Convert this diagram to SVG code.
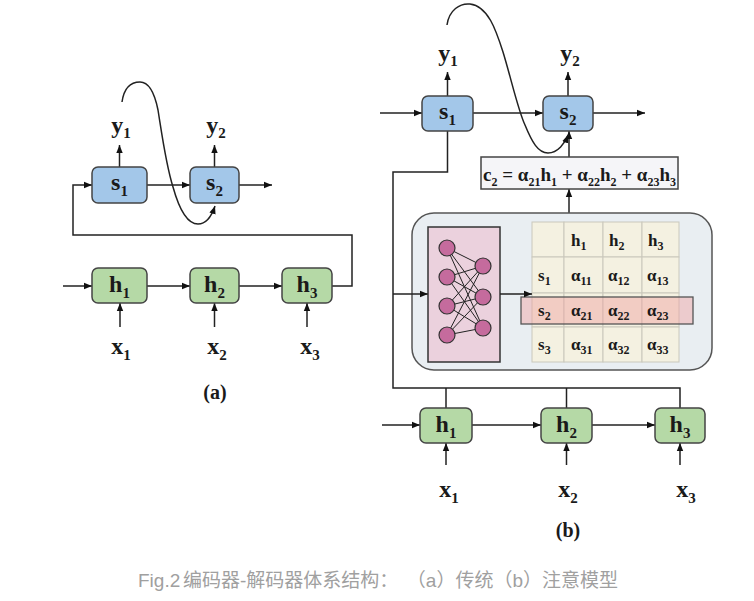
<svg xmlns="http://www.w3.org/2000/svg" width="754" height="601" viewBox="0 0 754 601">
<defs>
<marker id="ah" viewBox="0 0 10 10" refX="10" refY="5" markerWidth="8" markerHeight="8" markerUnits="userSpaceOnUse" orient="auto">
<path d="M0,1 L10,5 L0,9 Z" fill="#111"/>
</marker>
<style>
.ln{fill:none;stroke:#222;stroke-width:1.5}
.ar{fill:none;stroke:#222;stroke-width:1.5;marker-end:url(#ah)}
.sbox{fill:#a3c7e9;stroke:#444;stroke-width:1.5}
.hbox{fill:#b5d9a6;stroke:#444;stroke-width:1.5}
.lb{font-family:"Liberation Serif","Times New Roman",serif;font-weight:bold;fill:#1a1a1a}
.big{font-size:24px}
.tb{font-size:17px}
.cell{fill:#f4f1e1;stroke:#cac8bc;stroke-width:1}
.nn{fill:#c56b9d;stroke:#333;stroke-width:1.2}
.w{stroke:#222;stroke-width:1}
.cap{font-family:"Liberation Sans","Noto Sans CJK SC",sans-serif;font-size:19px;fill:#a0a0a0}
</style>
</defs>
<rect width="754" height="601" fill="#fff"/>

<!-- connectors -->
<g id="connectors">
<!-- (a) -->
<path class="ar" d="M63,286 H92"/>
<path class="ar" d="M147,286 H190"/>
<path class="ar" d="M239,286 H282"/>
<path class="ar" d="M120,327 V303"/>
<path class="ar" d="M214.5,327 V303"/>
<path class="ar" d="M307,327 V303"/>
<path class="ar" d="M119.5,167 V145"/>
<path class="ar" d="M214.5,167 V145"/>
<path class="ar" d="M147,185 H190"/>
<path class="ar" d="M239,185 H272"/>
<path class="ar" d="M332,286 H352 V235 H73 V185 H92"/>
<path class="ar" d="M122,102 C124,88 131,82 140,82 C150,82 155,95 158,110 C162,135 166,165 173,187 C178,205 186,224 198,224 C207,224 212,215 215,206"/>
<!-- (b) -->
<path class="ar" d="M380,113 H422"/>
<path class="ar" d="M473,113 H543"/>
<path class="ar" d="M593,113 H645"/>
<path class="ar" d="M447.5,96 V72"/>
<path class="ar" d="M568,96 V72"/>
<path class="ln" d="M447.5,131 V172 H393 V388 H680 V408"/>
<path class="ln" d="M446,388 V408"/>
<path class="ln" d="M566.5,388 V408"/>
<path class="ar" d="M569,213 V189"/>
<path class="ar" d="M569,157 V131"/>
<path class="ar" d="M382,425 H420"/>
<path class="ar" d="M472,425 H541"/>
<path class="ar" d="M592,425 H655"/>
<path class="ar" d="M446,465 V443"/>
<path class="ar" d="M566.5,465 V443"/>
<path class="ar" d="M680,465 V443"/>
<path class="ar" d="M447,25 C449,10 460,3 470,4 C488,6 496,30 503,52 C511,78 518,110 525,125 C532,142 538,153 548,153 C558,153 565,143 568,135"/>
</g>

<!-- (a) nodes -->
<g id="a-s1"><rect class="sbox" x="92" y="167" width="55" height="36" rx="6"/><text class="lb big" x="119.5" y="190" text-anchor="middle">s<tspan font-size="15" dy="6">1</tspan></text></g>
<g id="a-s2"><rect class="sbox" x="190" y="167" width="49" height="36" rx="6"/><text class="lb big" x="214.5" y="190" text-anchor="middle">s<tspan font-size="15" dy="6">2</tspan></text></g>
<g id="a-h1"><rect class="hbox" x="92" y="268" width="55" height="35" rx="6"/><text class="lb big" x="119.5" y="292" text-anchor="middle">h<tspan font-size="15" dy="6">1</tspan></text></g>
<g id="a-h2"><rect class="hbox" x="190" y="268" width="49" height="35" rx="6"/><text class="lb big" x="214.5" y="292" text-anchor="middle">h<tspan font-size="15" dy="6">2</tspan></text></g>
<g id="a-h3"><rect class="hbox" x="282" y="268" width="50" height="35" rx="6"/><text class="lb big" x="307" y="292" text-anchor="middle">h<tspan font-size="15" dy="6">3</tspan></text></g>
<g id="a-y1"><text class="lb big" x="121" y="133" text-anchor="middle">y<tspan font-size="15" dy="5">1</tspan></text></g>
<g id="a-y2"><text class="lb big" x="216" y="133" text-anchor="middle">y<tspan font-size="15" dy="5">2</tspan></text></g>
<g id="a-x1"><text class="lb big" x="121" y="354" text-anchor="middle">x<tspan font-size="15" dy="6">1</tspan></text></g>
<g id="a-x2"><text class="lb big" x="217" y="354" text-anchor="middle">x<tspan font-size="15" dy="6">2</tspan></text></g>
<g id="a-x3"><text class="lb big" x="310" y="354" text-anchor="middle">x<tspan font-size="15" dy="6">3</tspan></text></g>
<g id="a-label"><text class="lb" font-size="20" x="215" y="399" text-anchor="middle">(a)</text></g>

<!-- (b) nodes -->
<g id="b-s1"><rect class="sbox" x="422" y="96" width="51" height="35" rx="6"/><text class="lb big" x="447.5" y="119" text-anchor="middle">s<tspan font-size="15" dy="6">1</tspan></text></g>
<g id="b-s2"><rect class="sbox" x="543" y="96" width="50" height="35" rx="6"/><text class="lb big" x="568" y="119" text-anchor="middle">s<tspan font-size="15" dy="6">2</tspan></text></g>
<g id="b-y1"><text class="lb big" x="448" y="61" text-anchor="middle">y<tspan font-size="15" dy="5">1</tspan></text></g>
<g id="b-y2"><text class="lb big" x="570" y="61" text-anchor="middle">y<tspan font-size="15" dy="5">2</tspan></text></g>
<g id="b-c2"><rect x="481" y="157" width="197" height="32" fill="#f5f5f8" stroke="#444" stroke-width="1.5"/><text class="lb" font-size="19" x="483" y="181">c<tspan font-size="12" dy="5">2</tspan><tspan dy="-5"> = α</tspan><tspan font-size="12" dy="5">21</tspan><tspan dy="-5">h</tspan><tspan font-size="12" dy="5">1</tspan><tspan dy="-5"> + α</tspan><tspan font-size="12" dy="5">22</tspan><tspan dy="-5">h</tspan><tspan font-size="12" dy="5">2</tspan><tspan dy="-5"> + α</tspan><tspan font-size="12" dy="5">23</tspan><tspan dy="-5">h</tspan><tspan font-size="12" dy="5">3</tspan></text></g>

<g id="b-attention">
<rect x="412" y="213" width="300" height="157" rx="22" fill="#e9eef2" stroke="#555" stroke-width="1.5"/>
<path class="ar" d="M393,294 H428"/>
<rect x="428" y="227" width="72" height="135" fill="#ebd1dd" stroke="#333" stroke-width="1.5"/>
<g class="w">
<path d="M447,248 L483,266 M447,248 L483,297 M447,248 L483,328 M447,277 L483,266 M447,277 L483,297 M447,277 L483,328 M447,306 L483,266 M447,306 L483,297 M447,306 L483,328 M447,335 L483,266 M447,335 L483,297 M447,335 L483,328"/>
</g>
<circle class="nn" cx="447" cy="248" r="8"/><circle class="nn" cx="447" cy="277" r="8"/><circle class="nn" cx="447" cy="306" r="8"/><circle class="nn" cx="447" cy="335" r="8"/>
<circle class="nn" cx="483" cy="266" r="8"/><circle class="nn" cx="483" cy="297" r="8"/><circle class="nn" cx="483" cy="328" r="8"/>
</g>

<g id="b-table">
<rect class="cell" x="532" y="222" width="32" height="35"/><rect class="cell" x="564" y="222" width="39" height="35"/><rect class="cell" x="603" y="222" width="39" height="35"/><rect class="cell" x="642" y="222" width="37" height="35"/>
<rect class="cell" x="532" y="257" width="32" height="36"/><rect class="cell" x="564" y="257" width="39" height="36"/><rect class="cell" x="603" y="257" width="39" height="36"/><rect class="cell" x="642" y="257" width="37" height="36"/>
<rect class="cell" x="532" y="293" width="32" height="34"/><rect class="cell" x="564" y="293" width="39" height="34"/><rect class="cell" x="603" y="293" width="39" height="34"/><rect class="cell" x="642" y="293" width="37" height="34"/>
<rect class="cell" x="532" y="327" width="32" height="35"/><rect class="cell" x="564" y="327" width="39" height="35"/><rect class="cell" x="603" y="327" width="39" height="35"/><rect class="cell" x="642" y="327" width="37" height="35"/>
<rect x="521" y="297" width="172" height="27" fill="#f0a0a0" fill-opacity="0.45" stroke="#555" stroke-width="1.3"/>
<path class="ar" d="M500,294 H532"/>
<g class="lb tb">
<text x="571" y="246">h<tspan font-size="12" dy="4">1</tspan></text>
<text x="609" y="246">h<tspan font-size="12" dy="4">2</tspan></text>
<text x="648" y="246">h<tspan font-size="12" dy="4">3</tspan></text>
<text x="538" y="281">s<tspan font-size="12" dy="4">1</tspan></text>
<text x="571" y="281">α<tspan font-size="12" dy="4">11</tspan></text>
<text x="608" y="281">α<tspan font-size="12" dy="4">12</tspan></text>
<text x="647" y="281">α<tspan font-size="12" dy="4">13</tspan></text>
<text x="538" y="316">s<tspan font-size="12" dy="4">2</tspan></text>
<text x="571" y="316">α<tspan font-size="12" dy="4">21</tspan></text>
<text x="608" y="316">α<tspan font-size="12" dy="4">22</tspan></text>
<text x="647" y="316">α<tspan font-size="12" dy="4">23</tspan></text>
<text x="538" y="350">s<tspan font-size="12" dy="4">3</tspan></text>
<text x="571" y="350">α<tspan font-size="12" dy="4">31</tspan></text>
<text x="608" y="350">α<tspan font-size="12" dy="4">32</tspan></text>
<text x="647" y="350">α<tspan font-size="12" dy="4">33</tspan></text>
</g>
</g>

<g id="b-h1"><rect class="hbox" x="420" y="408" width="52" height="35" rx="6"/><text class="lb big" x="446" y="432" text-anchor="middle">h<tspan font-size="15" dy="6">1</tspan></text></g>
<g id="b-h2"><rect class="hbox" x="541" y="408" width="51" height="35" rx="6"/><text class="lb big" x="566.5" y="432" text-anchor="middle">h<tspan font-size="15" dy="6">2</tspan></text></g>
<g id="b-h3"><rect class="hbox" x="655" y="408" width="50" height="35" rx="6"/><text class="lb big" x="680" y="432" text-anchor="middle">h<tspan font-size="15" dy="6">3</tspan></text></g>
<g id="b-x1"><text class="lb big" x="449" y="497" text-anchor="middle">x<tspan font-size="15" dy="6">1</tspan></text></g>
<g id="b-x2"><text class="lb big" x="568" y="497" text-anchor="middle">x<tspan font-size="15" dy="6">2</tspan></text></g>
<g id="b-x3"><text class="lb big" x="686" y="497" text-anchor="middle">x<tspan font-size="15" dy="6">3</tspan></text></g>
<g id="b-label"><text class="lb" font-size="20" x="568" y="537" text-anchor="middle">(b)</text></g>

<g id="caption">
<text class="cap" x="138" y="587">Fig.2</text>
<text class="cap" x="183" y="587">编码器-解码器体系结构：</text>
<text class="cap" x="618" y="587" text-anchor="end">（a）传统（b）注意模型</text>
</g>
</svg>
